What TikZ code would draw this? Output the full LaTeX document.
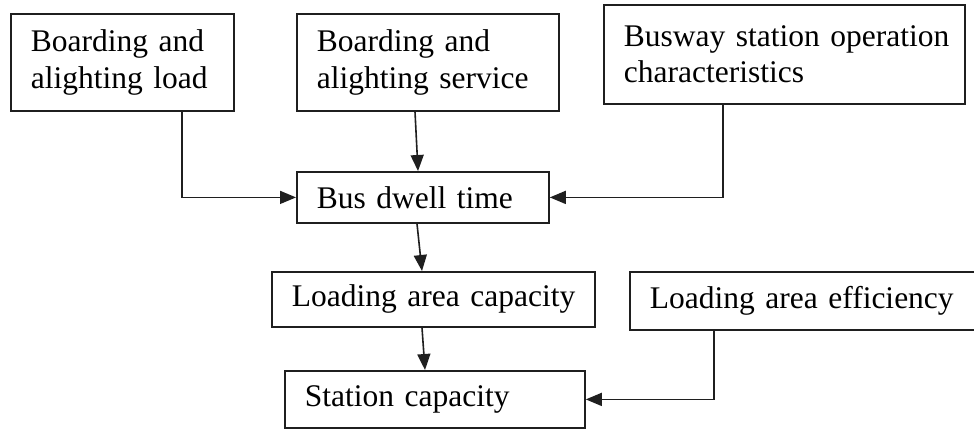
\documentclass[tikz,border=0pt]{standalone}
\usepackage{fontspec}
\setmainfont{Liberation Serif}
\usetikzlibrary{arrows.meta}

% left indent at the start of every text line inside a box
\newcommand\boxline{\hspace*{20pt}}

\tikzset{
  box/.style={draw=black!88, line width=1.8pt, anchor=north west, inner sep=0pt,
    align=left, font=\fontsize{31.5}{36.5}\selectfont},
  arr/.style={draw=black!88, line width=1.6pt, -{Triangle[length=16pt,width=13pt]}}
}

\begin{document}
\begin{tikzpicture}[x=1pt,y=-1pt]
  \useasboundingbox[fill=white] (0,0) rectangle (974,429);

  % input factors
  \node[box, text width=223pt, minimum height=97pt] (load) at (10,13)
    {\boxline Boarding and\\{}\boxline alighting load};
  \node[box, text width=262pt, minimum height=97pt] (service) at (296,13)
    {\boxline Boarding and\\{}\boxline alighting service};
  \node[box, text width=361pt, minimum height=99pt] (oper) at (603,4)
    {\boxline Busway station operation\\{}\boxline characteristics};

  % dwell time and capacities
  \node[box, text width=252pt, minimum height=51pt] (dwell) at (296,171)
    {\boxline Bus dwell time};
  \node[box, text width=323pt, minimum height=55pt] (lac) at (271,271)
    {\boxline Loading area capacity};
  \node[box, text width=361pt, minimum height=58pt] (eff) at (629,271)
    {\boxline Loading area efficiency};
  \node[box, text width=300pt, minimum height=57pt] (station) at (284,370)
    {\boxline Station capacity};

  % connectors
  \draw[arr] ([xshift=172pt]load.south west) |- (dwell.west);
  \draw[arr] ([xshift=119pt]service.south west) -- ([xshift=122pt]dwell.north west);
  \draw[arr] ([xshift=120pt]oper.south west) |- (dwell.east);
  \draw[arr] ([xshift=121pt]dwell.south west) -- ([xshift=151pt]lac.north west);
  \draw[arr] ([xshift=151pt]lac.south west) -- ([xshift=141pt]station.north west);
  \draw[arr] ([xshift=85pt]eff.south west) |- (station.east);
\end{tikzpicture}
\end{document}
